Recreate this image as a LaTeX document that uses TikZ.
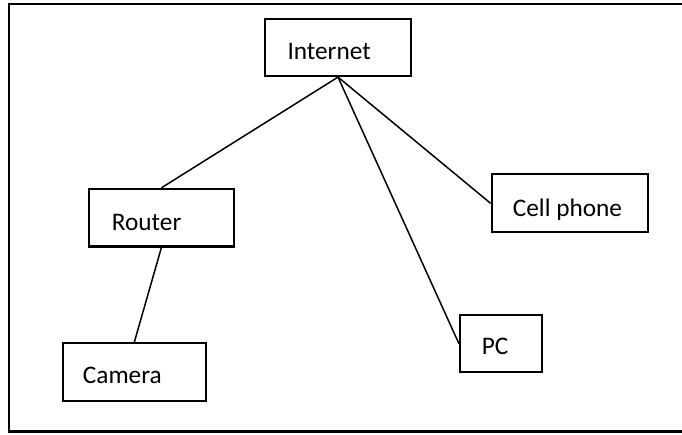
\documentclass[tikz,border=0pt]{standalone}
\usepackage{fontspec}
\setmainfont{Carlito}
\begin{document}
\begin{tikzpicture}[x=1pt,y=-1pt,
  box/.style={draw=black,line width=2.2pt,rectangle,inner sep=0pt},
  lbl/.style={anchor=base west,inner sep=0pt,font=\fontsize{25.3}{30}\selectfont},
  link/.style={draw=black,line width=1.5pt}]
\useasboundingbox (0,0) rectangle (682,434);
\draw[line width=2.2pt] (684,4) -- (9,4) -- (9,431.5) -- (684,431.5);
\node[box,minimum width=146pt,minimum height=57pt] (inet) at (338,47.5) {};
\node[box,minimum width=144.7pt,minimum height=57.5pt] (router) at (161.4,217.7) {};
\node[box,minimum width=143.3pt,minimum height=57.7pt] (camera) at (134.3,372.2) {};
\node[box,minimum width=156.6pt,minimum height=58pt] (cell) at (570,203.3) {};
\node[box,minimum width=82pt,minimum height=57.3pt] (pc) at (501,343.6) {};
\node[lbl] (tinet) at (287.3,59) {Internet};
\node[lbl] (trouter) at (111.7,230) {Router};
\node[lbl] (tcamera) at (82.7,383.3) {Camera};
\node[lbl] (tcell) at (512.7,216) {Cell phone};
\node[lbl] (tpc) at (481.7,354.3) {PC};
\draw[link] (inet.south) -- (router.north);
\draw[link] (inet.south) -- (cell.west);
\draw[link] (inet.south) -- (pc.west);
\draw[link] (router.south) -- (camera.north);
\end{tikzpicture}
\end{document}
